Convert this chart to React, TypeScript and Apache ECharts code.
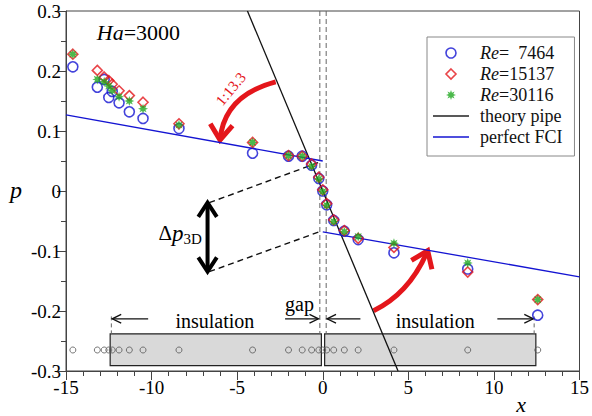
import React, { useEffect, useRef } from 'react';
import * as echarts from 'echarts';

// ---- data ----
const xPositions = [-14.6, -13.17, -12.77, -12.5, -12.3, -11.9, -11.3, -10.5, -8.4, -4.1, -2.0, -1.2, -0.65, -0.23, 0, 0.23, 0.64, 1.26, 2.07, 4.16, 8.47, 12.56];
const pRe7464 = [0.207, 0.173, 0.186, 0.156, 0.166, 0.147, 0.132, 0.121, 0.104, 0.063, 0.058, 0.058, 0.043, 0.021, 0.0, -0.023, -0.049, -0.067, -0.081, -0.103, -0.130, -0.207];
const pRe15137 = [0.228, 0.201, 0.19, 0.184, 0.178, 0.167, 0.159, 0.148, 0.112, 0.081, 0.059, 0.058, 0.045, 0.023, 0.002, -0.021, -0.048, -0.066, -0.079, -0.094, -0.135, -0.181];
const pRe30116 = [0.228, 0.186, 0.182, 0.175, 0.167, 0.157, 0.150, 0.137, 0.110, 0.081, 0.059, 0.058, 0.041, 0.020, -0.001, -0.024, -0.051, -0.068, -0.076, -0.087, -0.120, -0.181];
const probeRowP = -0.265;

const theoryPipe = [[-4.4, 0.3], [4.4, -0.3]];
const fciLeft = [[-15, 0.127], [0, 0.05]];
const fciRight = [[0, -0.068], [15, -0.143]];

const insulationBlocks = [[-12.42, -0.238, -0.08, -0.291], [0.11, -0.238, 12.45, -0.291]];
const gapLinesX = [-0.17, 0.2];
const insulationEndsX = [-12.35, 12.35];
const insulationArrowP = -0.213;
// [tail x, tip x]
const insulationArrows = [[-10.2, -12.3], [-2.2, -0.25], [2.2, 0.25], [10.2, 12.3]];
// delta p construction
const dpX = -6.73;
const dpTop = -0.0195;
const dpBottom = -0.1345;
const dpUpperEnd = [-0.2, 0.048];
const dpLowerEnd = [-0.2, -0.068];
// red curved arrows: start, control, tip
const redArrow1 = [[-2.75, 0.182], [-5.77, 0.159], [-6.0, 0.085]];
const redArrow2 = [[2.97, -0.1995], [5.07, -0.1705], [6.13, -0.0995]];

const names = ['Re\u2007\u20077464', 'Re=15137', 'Re=30116'];
const nameLabels = ['=\u20077464', '=15137', '=30116'];

const BLUE = '#1414d2';
const RED = '#e4161b';
const GREEN = '#1fa81f';
const SERIF = 'Liberation Serif';

const starPath =
  'path://' +
  Array.from({ length: 16 }, (_, k) => {
    const a = (k * Math.PI) / 8 - Math.PI / 2;
    const r = k % 2 ? 0.5 : 1;
    return `${k ? 'L' : 'M'}${(r * Math.cos(a) * 10 + 10).toFixed(2)} ${(r * Math.sin(a) * 10 + 10).toFixed(2)}`;
  }).join(' ') +
  ' Z';
const diamondPath = 'path://M5 0L10 5L5 10L0 5Z';
const diamondHollow = 'path://M5 0L10 5L5 10L0 5Z';
const lineIcon = 'path://M0 0H36V1.4H0Z';

const zip = (ys: number[]) => xPositions.map((x, i) => [x, ys[i]]);

function vHead(tip: number[], from: number[], len: number, deg: number) {
  const dx = tip[0] - from[0];
  const dy = tip[1] - from[1];
  const L = Math.hypot(dx, dy) || 1;
  const ux = dx / L, uy = dy / L;
  const t = (deg * Math.PI) / 180;
  const arm = (s: number) => {
    const c = Math.cos(s * t), sn = Math.sin(s * t);
    const rx = ux * c - uy * sn;
    const ry = ux * sn + uy * c;
    return [tip[0] - len * rx, tip[1] - len * ry];
  };
  return [arm(1), tip, arm(-1)];
}

function annotations(params: any, api: any) {
  const c = (x: number, y: number) => api.coord([x, y]);
  const kids: any[] = [];
  const top = c(0, 0.3)[1];
  gapLinesX.forEach((gx) => {
    const b = c(gx, -0.238);
    kids.push({ type: 'line', shape: { x1: b[0], y1: top, x2: b[0], y2: b[1] }, style: { stroke: '#666', lineWidth: 1, lineDash: [5, 3] } });
  });
  insulationEndsX.forEach((ex) => {
    const a = c(ex, insulationArrowP + 0.004), b = c(ex, -0.238);
    kids.push({ type: 'line', shape: { x1: a[0], y1: a[1], x2: b[0], y2: b[1] }, style: { stroke: '#666', lineWidth: 1, lineDash: [4, 3] } });
  });
  insulationArrows.forEach(([tx, hx]) => {
    const a = c(tx, insulationArrowP), b = c(hx, insulationArrowP);
    kids.push({ type: 'line', shape: { x1: a[0], y1: a[1], x2: b[0], y2: b[1] }, style: { stroke: '#111', lineWidth: 1.3 } });
    kids.push({ type: 'polyline', shape: { points: vHead(b, a, 10, 26) }, style: { stroke: '#111', lineWidth: 1.3, fill: null } });
  });
  const tA = c(dpX + 0.1, dpTop), tB = c(dpUpperEnd[0], dpUpperEnd[1]);
  const bA = c(dpX + 0.1, dpBottom), bB = c(dpLowerEnd[0], dpLowerEnd[1]);
  kids.push({ type: 'line', shape: { x1: tA[0], y1: tA[1], x2: tB[0], y2: tB[1] }, style: { stroke: '#111', lineWidth: 1.4, lineDash: [6, 4] } });
  kids.push({ type: 'line', shape: { x1: bA[0], y1: bA[1], x2: bB[0], y2: bB[1] }, style: { stroke: '#111', lineWidth: 1.4, lineDash: [6, 4] } });
  const dT = c(dpX, dpTop), dB = c(dpX, dpBottom);
  kids.push({ type: 'line', shape: { x1: dT[0], y1: dT[1] + 3, x2: dB[0], y2: dB[1] - 3 }, style: { stroke: '#000', lineWidth: 4 } });
  kids.push({ type: 'polyline', shape: { points: vHead(dT, dB, 17, 33) }, style: { stroke: '#000', lineWidth: 4, fill: null, lineJoin: 'miter' } });
  kids.push({ type: 'polyline', shape: { points: vHead(dB, dT, 17, 33) }, style: { stroke: '#000', lineWidth: 4, fill: null, lineJoin: 'miter' } });
  [redArrow1, redArrow2].forEach((arr) => {
    const s = c(arr[0][0], arr[0][1]);
    const cp = c(arr[1][0], arr[1][1]);
    const e = c(arr[2][0], arr[2][1]);
    kids.push({ type: 'bezierCurve', shape: { x1: s[0], y1: s[1], x2: e[0], y2: e[1], cpx1: cp[0], cpy1: cp[1] }, style: { stroke: RED, lineWidth: 5, fill: null } });
    kids.push({ type: 'polyline', shape: { points: vHead(e, cp, 19, 36) }, style: { stroke: RED, lineWidth: 5, fill: null, lineJoin: 'miter' } });
  });
  const txt = (x: number, y: number, text: string, extra: any = {}) => {
    const p = c(x, y);
    return { type: 'text', x: p[0], y: p[1], rotation: extra.rotation || 0, style: { text, fill: extra.fill || '#000', font: extra.font || `20px ${SERIF}`, align: extra.align || 'center', verticalAlign: 'middle', rich: extra.rich } };
  };
  kids.push(txt(-6.3, -0.217, 'insulation'));
  kids.push(txt(6.57, -0.217, 'insulation'));
  kids.push(txt(-1.36, -0.188, 'gap'));
  kids.push(txt(-5.37, 0.17, '1:13.3', { fill: RED, font: `15px ${SERIF}`, rotation: (50 * Math.PI) / 180 }));
  kids.push(
    txt(-13.2, 0.264, '{i|Ha}{n|=3000}', {
      align: 'left',
      rich: {
        i: { fontStyle: 'italic', fontSize: 22, fontFamily: SERIF, fill: '#000' },
        n: { fontSize: 22, fontFamily: SERIF, fill: '#000' },
      },
    })
  );
  kids.push(
    txt(-9.6, -0.07, '{d|\u0394}{p|p}{s|3D}', {
      align: 'left',
      rich: {
        d: { fontSize: 21, fontFamily: SERIF, fill: '#000', lineHeight: 26, verticalAlign: 'middle' },
        p: { fontStyle: 'italic', fontSize: 23, fontFamily: SERIF, fill: '#000', lineHeight: 26, verticalAlign: 'middle' },
        s: { fontSize: 15, fontFamily: SERIF, fill: '#000', lineHeight: 26, verticalAlign: 'bottom' },
      },
    })
  );
  return { type: 'group', children: kids };
}

export default function App() {
  const ref = useRef<HTMLDivElement>(null);
  useEffect(() => {
    if (!ref.current) return;
    const chart = echarts.init(ref.current, undefined, { renderer: 'svg' });
    const axisCommon = {
      axisLine: { onZero: false, lineStyle: { color: '#444', width: 1 } },
      axisTick: { show: true, inside: false, length: 9, lineStyle: { color: '#444' } },
      minorTick: { show: true, length: 5, lineStyle: { color: '#444' } },
      splitLine: { show: false },
      axisLabel: { color: '#000', fontFamily: SERIF, fontSize: 19 },
    };
    chart.setOption({
      animation: false,
      backgroundColor: '#fff',
      grid: { left: 66, right: 10, top: 11, bottom: 45, show: true, borderColor: '#444', borderWidth: 1 },
      xAxis: {
        type: 'value', min: -15, max: 15, interval: 5,
        ...axisCommon,
        minorTick: { ...axisCommon.minorTick, splitNumber: 5 },
        axisLabel: { ...axisCommon.axisLabel, margin: 7 },
      },
      yAxis: {
        type: 'value', min: -0.3, max: 0.3, interval: 0.1,
        ...axisCommon,
        minorTick: { ...axisCommon.minorTick, splitNumber: 2 },
        axisLabel: { ...axisCommon.axisLabel, margin: 5 },
      },
      legend: {
        orient: 'vertical', left: 427, top: 37,
        padding: [7, 12, 10, 6],
        borderColor: '#888', borderWidth: 1, backgroundColor: '#fff',
        itemWidth: 36, itemHeight: 10, itemGap: 3,
        selectedMode: false,
        data: [
          { name: names[0], icon: 'circle', itemStyle: { color: 'rgba(0,0,0,0)', borderColor: BLUE, borderWidth: 1.6 } },
          { name: names[1], icon: diamondHollow, itemStyle: { color: 'rgba(0,0,0,0)', borderColor: RED, borderWidth: 1.6 } },
          { name: names[2], icon: starPath, itemStyle: { color: GREEN, borderWidth: 0 } },
          { name: 'theory pipe', icon: lineIcon, itemStyle: { color: '#222', borderWidth: 0 } },
          { name: 'perfect FCI', icon: lineIcon, itemStyle: { color: BLUE, borderWidth: 0 } },
        ],
        formatter: (name: string) => {
          const i = names.indexOf(name);
          if (i >= 0) return `{g|}{i|Re}{n|${nameLabels[i]}}`;
          return `{g|}{n|${name}}`;
        },
        textStyle: {
          color: '#111', fontFamily: SERIF, fontSize: 18,
          rich: {
            g: { width: 6, lineHeight: 20 },
            i: { fontStyle: 'italic', fontFamily: SERIF, fontSize: 18, lineHeight: 20, color: '#111' },
            n: { fontFamily: SERIF, fontSize: 18, lineHeight: 20, color: '#111' },
          },
        },
      },
      graphic: [
        { type: 'text', x: 16, y: 190, style: { text: 'p', font: `italic 24px ${SERIF}`, fill: '#000', align: 'center', verticalAlign: 'middle' } },
        { type: 'text', x: 521, y: 404, style: { text: 'x', font: `italic 22px ${SERIF}`, fill: '#000', align: 'center', verticalAlign: 'middle' } },
      ],
      series: [
        {
          type: 'custom', name: 'insulation', z: 1, silent: true,
          data: insulationBlocks,
          renderItem: (params: any, api: any) => {
            const a = api.coord([api.value(0), api.value(1)]);
            const b = api.coord([api.value(2), api.value(3)]);
            return { type: 'rect', shape: { x: a[0], y: a[1], width: b[0] - a[0], height: b[1] - a[1] }, style: { fill: '#d9d9d9', stroke: '#222', lineWidth: 1.2 } };
          },
        },
        {
          type: 'scatter', name: 'probes', z: 2, silent: true,
          data: xPositions.map((x) => [x, probeRowP]),
          symbol: 'circle', symbolSize: 6,
          itemStyle: { color: 'rgba(0,0,0,0)', borderColor: '#555', borderWidth: 1 },
        },
        { type: 'custom', name: 'annot', z: 3, silent: true, data: [0], renderItem: annotations },
        { type: 'line', name: 'theory pipe', z: 4, data: theoryPipe, symbol: 'none', lineStyle: { color: '#111', width: 1.3 }, itemStyle: { color: '#111' }, silent: true },
        { type: 'line', name: 'perfect FCI', z: 4, data: fciLeft, symbol: 'none', lineStyle: { color: BLUE, width: 1.3 }, itemStyle: { color: BLUE }, silent: true },
        { type: 'line', name: 'perfect FCI', z: 4, data: fciRight, symbol: 'none', lineStyle: { color: BLUE, width: 1.3 }, itemStyle: { color: BLUE }, silent: true },
        {
          type: 'scatter', name: names[0], z: 5, data: zip(pRe7464), symbol: 'circle', symbolSize: 10,
          itemStyle: { color: 'rgba(0,0,0,0)', borderColor: BLUE, borderWidth: 1.6 },
        },
        {
          type: 'scatter', name: names[1], z: 6, data: zip(pRe15137), symbol: diamondPath, symbolSize: 10,
          itemStyle: { color: 'rgba(0,0,0,0)', borderColor: RED, borderWidth: 1.6 },
        },
        {
          type: 'scatter', name: names[2], z: 7, data: zip(pRe30116), symbol: starPath, symbolSize: 10,
          itemStyle: { color: GREEN },
        },
      ],
    });
    return () => chart.dispose();
  }, []);
  return <div ref={ref} style={{ position: 'fixed', left: 0, top: 0, width: 592, height: 416 }} />;
}
